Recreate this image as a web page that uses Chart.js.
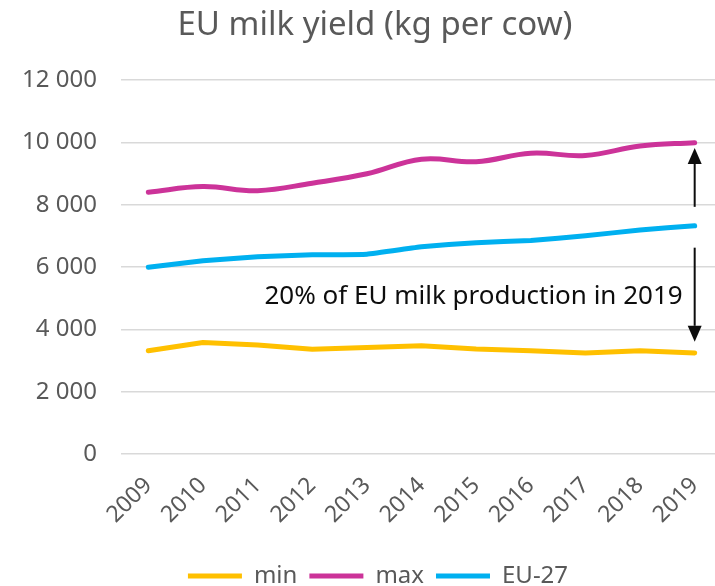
<!DOCTYPE html>
<html>
<head>
<meta charset="utf-8">
<script src="https://cdn.jsdelivr.net/npm/chart.js@4"></script>
<style>
  html, body { margin: 0; padding: 0; background: #fff; overflow: hidden; }
  #wrap { width: 722px; height: 598px; }
</style>
</head>
<body>
<div id="wrap"><canvas id="milkChart"></canvas></div>
<script>
// years on the x axis
const years = ['2009', '2010', '2011', '2012', '2013', '2014', '2015', '2016', '2017', '2018', '2019'];

// kg per cow
const minYield = [3310, 3580, 3500, 3360, 3420, 3470, 3370, 3310, 3240, 3310, 3240];
const maxYield = [8400, 8580, 8450, 8690, 8990, 9460, 9380, 9650, 9580, 9880, 9990];
const eu27Yield = [5990, 6200, 6330, 6390, 6410, 6650, 6780, 6850, 7000, 7190, 7320];

// y axis ticks
const yTicks = [0, 2000, 4000, 6000, 8000, 10000, 12000];

// annotation: text and the two arrows at the 2019 column
const noteText = '20% of EU milk production in 2019';
const noteValue = 5040;
const arrowUp = [7930, 9820];
const arrowDown = [6620, 3600];

const grey = '#595959';
const fontFamily = '"Noto Sans", "DejaVu Sans", sans-serif';

function fmt(v) {
    return String(v).replace(/\B(?=(\d{3})+(?!\d))/g, ' ');
}

function drawArrow(ctx, x, y1, y2) {
    const dir = y2 < y1 ? -1 : 1;
    const head = 16;
    ctx.beginPath();
    ctx.moveTo(x, y1);
    ctx.lineTo(x, y2 - dir * head);
    ctx.stroke();
    ctx.beginPath();
    ctx.moveTo(x, y2);
    ctx.lineTo(x - 7, y2 - dir * head);
    ctx.lineTo(x + 7, y2 - dir * head);
    ctx.closePath();
    ctx.fill();
}

// title and annotation, drawn from the scales
const extras = {
    id: 'extras',
    afterLayout(chart) {
        // legend sits a bit right of centre in the original
        chart.legend.left += 34;
    },
    afterDraw(chart) {
        const ctx = chart.ctx;
        const xs = chart.scales.x;
        const ys = chart.scales.y;
        ctx.save();
        ctx.fillStyle = grey;
        ctx.font = '33px ' + fontFamily;
        ctx.textAlign = 'center';
        ctx.textBaseline = 'middle';
        ctx.fillText('EU milk yield (kg per cow)', 375, 26);

        const ax = xs.getPixelForValue(years.length - 1);
        ctx.fillStyle = '#0d0d0d';
        ctx.strokeStyle = '#0d0d0d';
        ctx.lineWidth = 2;
        ctx.font = '26px ' + fontFamily;
        ctx.textAlign = 'right';
        ctx.fillText(noteText, ax - 12, ys.getPixelForValue(noteValue));
        drawArrow(ctx, ax, ys.getPixelForValue(arrowUp[0]), ys.getPixelForValue(arrowUp[1]));
        drawArrow(ctx, ax, ys.getPixelForValue(arrowDown[0]), ys.getPixelForValue(arrowDown[1]));
        ctx.restore();
    }
};

const lineDefaults = {
    borderWidth: 5,
    pointRadius: 0,
    borderCapStyle: 'round',
    borderJoinStyle: 'round',
    fill: false
};

new Chart(document.getElementById('milkChart'), {
    type: 'line',
    data: {
        labels: years,
        datasets: [
            { ...lineDefaults, label: 'min', data: minYield, borderColor: '#FFC000', backgroundColor: '#FFC000', tension: 0 },
            { ...lineDefaults, label: 'max', data: maxYield, borderColor: '#CC3399', backgroundColor: '#CC3399', tension: 0.4 },
            { ...lineDefaults, label: 'EU-27', data: eu27Yield, borderColor: '#00B0F0', backgroundColor: '#00B0F0', tension: 0.1 }
        ]
    },
    options: {
        responsive: true,
        maintainAspectRatio: false,
        animation: false,
        layout: { padding: { top: 80, right: 0, left: 0, bottom: 0 } },
        plugins: {
            legend: {
                position: 'bottom',
                labels: {
                    usePointStyle: true,
                    pointStyle: 'line',
                    pointStyleWidth: 54,
                    color: grey,
                    font: { family: fontFamily, size: 24 },
                    padding: 12
                }
            },
            tooltip: { enabled: false }
        },
        scales: {
            x: {
                offset: true,
                grid: { display: false },
                border: { display: false },
                afterFit(axis) {
                    axis.height = 98;
                    axis.paddingLeft = 0;
                    axis.paddingRight = 0;
                },
                ticks: {
                    color: grey,
                    font: { family: fontFamily, size: 23 },
                    minRotation: 45,
                    maxRotation: 45,
                    padding: 10
                }
            },
            y: {
                min: 0,
                max: 12000,
                afterBuildTicks(axis) {
                    axis.ticks = yTicks.map(v => ({ value: v }));
                },
                afterFit(axis) { axis.width = 121; },
                grid: { color: '#d9d9d9', lineWidth: 1.5, drawTicks: false },
                border: { display: false },
                ticks: {
                    color: grey,
                    font: { family: fontFamily, size: 24 },
                    padding: 24,
                    callback: v => fmt(v)
                }
            }
        }
    },
    plugins: [extras]
});
</script>
</body>
</html>
